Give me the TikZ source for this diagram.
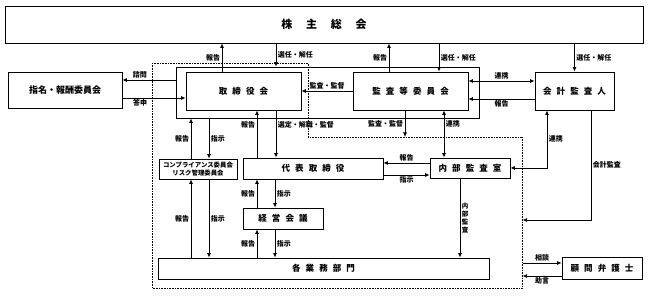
\documentclass[tikz,border=0pt]{standalone}
\usepackage{fontspec}
\newfontfamily\jpfont{Noto Sans CJK JP}
\usetikzlibrary{arrows.meta}
\newcommand{\gp}{\hspace{0.6em}}

\tikzset{
  box/.style={draw, line width=0.8pt, inner sep=0pt, align=center,
    font=\fontsize{8.5}{10}\selectfont\jpfont\bfseries},
  lbl/.style={font=\fontsize{7}{8}\selectfont\jpfont\bfseries, inner sep=1.5pt},
}

\begin{document}
\begin{tikzpicture}[x=1pt, y=-1pt, >={Latex[length=4.5pt,width=4pt]}, line width=0.8pt]
  \useasboundingbox (0,0) rectangle (648,296);

  % boxes
  \node[box, minimum width=638pt, minimum height=37pt, font=\fontsize{11}{12}\selectfont\jpfont\bfseries]
    (soukai) at (324,24.5) {株\hspace{1.25em}主\hspace{1.25em}総\hspace{1.25em}会};
  \node[box, minimum width=114pt, minimum height=36pt, font=\fontsize{9}{10}\selectfont\jpfont\bfseries]
    (shimei) at (65,90) {指名・報酬委員会};
  \node[draw, line width=0.8pt, minimum width=303pt, minimum height=51pt] (frame) at (327.5,92.5) {};
  \node[box, minimum width=115pt, minimum height=38pt] (tori) at (243.5,91) {取\gp 締\gp 役\gp 会};
  \node[box, minimum width=115pt, minimum height=38pt] (kansa) at (410.5,91) {監\gp 査\gp 等\gp 委\gp 員\gp 会};
  \node[box, minimum width=79pt, minimum height=38pt] (kaikei) at (574.5,91) {会\gp 計\gp 監\gp 査\gp 人};
  \node[box, minimum width=78pt, minimum height=20pt, font=\fontsize{6.4}{8}\selectfont\jpfont\bfseries]
    (comp) at (198,169) {コンプライアンス委員会\\リスク管理委員会};
  \node[box, minimum width=140pt, minimum height=21pt] (daihyo) at (313,168.5) {代\gp 表\gp 取\gp 締\gp 役};
  \node[box, minimum width=80pt, minimum height=20pt] (naibu) at (470,168) {内\gp 部\gp 監\gp 査\gp 室};
  \node[box, minimum width=80pt, minimum height=21pt] (keiei) at (283,218.5) {経\gp 営\gp 会\gp 議};
  \node[box, minimum width=331pt, minimum height=21pt] (gyomu) at (323.5,268.5) {各\gp 業\gp 務\gp 部\gp 門};
  \node[box, minimum width=80pt, minimum height=22pt] (komon) at (602,268) {顧\gp 問\gp 弁\gp 護\gp 士};

  % executive area
  \coordinate (dotc) at (308,137);
  \coordinate (dotr) at (522.5,137);
  \draw[densely dotted, line width=0.6pt] (152,63) -- (308,63) -- (dotc) -- (dotr) -- (522.5,288) -- (152,288) -- cycle;
  \coordinate (acc) at (522.5,220);
  \coordinate (soudan) at (522.5,263);
  \coordinate (jogen) at (522.5,276);

  % shareholders
  \draw[->] ([xshift=-21.5pt]tori.north) -- ([xshift=-21.5pt]tori.north |- soukai.south)
    node[lbl, midway, left] {報告};
  \draw[->] ([xshift=32.5pt]tori.north |- soukai.south) -- ([xshift=32.5pt]tori.north |- frame.north)
    node[lbl, midway, right] {選任・解任};
  \draw[->] ([xshift=-21.5pt]kansa.north) -- ([xshift=-21.5pt]kansa.north |- soukai.south)
    node[lbl, midway, left] {報告};
  \draw[->] ([xshift=28.5pt]kansa.north |- soukai.south) -- ([xshift=28.5pt]kansa.north)
    node[lbl, midway, right] {選任・解任};
  \draw[->] (kaikei.north |- soukai.south) -- (kaikei.north)
    node[lbl, midway, right] {選任・解任};

  % board
  \draw[->] ([yshift=12.5pt]frame.west) -- ([yshift=12.5pt]frame.west -| shimei.east)
    node[lbl, pos=0.67, above] {諮問};
  \draw[->] ([yshift=-7pt]tori.west -| shimei.east) -- ([yshift=-7pt]tori.west)
    node[lbl, pos=0.28, below] {答申};
  \draw[->] (kansa.west) -- (tori.east) node[lbl, midway, above] {監査・監督};
  \draw[<->] ([yshift=10pt]kansa.east) -- ([yshift=10pt]kaikei.west) node[lbl, midway, above] {連携};
  \draw[->] ([yshift=-8pt]kaikei.west) -- ([yshift=-8pt]kansa.east) node[lbl, midway, below] {報告};

  \draw[->] ([xshift=-7pt]comp.north) -- ([xshift=-7pt]comp.north |- frame.south)
    node[lbl, midway, left] {報告};
  \draw[->] ([xshift=11pt]comp.north |- frame.south) -- ([xshift=11pt]comp.north)
    node[lbl, midway, right] {指示};
  \draw[->] ([xshift=-56pt]daihyo.north) -- ([xshift=-56pt]daihyo.north |- tori.south)
    node[lbl, pos=0.69, left] {報告};
  \draw[->] ([xshift=32.5pt]tori.south) -- ([xshift=32.5pt]tori.south |- daihyo.north)
    node[lbl, pos=0.31, right] {選定・解職・監督};
  \draw[->] ([xshift=-5.5pt]kansa.south) -- ([xshift=-5.5pt]kansa.south |- dotc)
    node[lbl, midway, left] {監査・監督};
  \draw[<->] ([xshift=-26pt]naibu.north |- kansa.south) -- ([xshift=-26pt]naibu.north)
    node[lbl, pos=0.29, right] {連携};
  \draw[<->] ([xshift=-27.5pt]kaikei.south) |- (naibu.east)
    node[lbl, pos=0.25, right] {連携};
  \draw[->] ([xshift=16.5pt]kaikei.south) |- (acc)
    node[lbl, pos=0.25, right] {会計監査};

  % execution
  \draw[->] ([yshift=5pt]naibu.west) -- ([yshift=5pt]naibu.west -| daihyo.east)
    node[lbl, midway, above] {報告};
  \draw[->] ([yshift=-6.5pt]daihyo.east) -- ([yshift=-6.5pt]daihyo.east -| naibu.west)
    node[lbl, midway, below] {指示};
  \draw[->] ([xshift=-7pt]comp.south |- gyomu.north) -- ([xshift=-7pt]comp.south)
    node[lbl, midway, left] {報告};
  \draw[->] ([xshift=11pt]comp.south) -- ([xshift=11pt]comp.south |- gyomu.north)
    node[lbl, midway, right] {指示};
  \draw[->] ([xshift=-26pt]keiei.north) -- ([xshift=-26pt]keiei.north |- daihyo.south)
    node[lbl, midway, left] {報告};
  \draw[->] ([xshift=-8pt]keiei.north |- daihyo.south) -- ([xshift=-8pt]keiei.north)
    node[lbl, midway, right] {指示};
  \draw[->] ([xshift=-26pt]keiei.south |- gyomu.north) -- ([xshift=-26pt]keiei.south)
    node[lbl, midway, left] {報告};
  \draw[->] ([xshift=-8pt]keiei.south) -- ([xshift=-8pt]keiei.south |- gyomu.north)
    node[lbl, midway, right] {指示};
  \draw[->] ([xshift=-10pt]naibu.south) -- ([xshift=-10pt]naibu.south |- gyomu.north)
    node[lbl, midway, right, align=center, font=\fontsize{6.5}{8}\selectfont\jpfont\bfseries] {内\\部\\監\\査};

  % lawyer
  \draw[->] (soudan) -- (soudan -| komon.west) node[lbl, midway, above] {相談};
  \draw[->] (jogen -| komon.west) -- (jogen) node[lbl, midway, below] {助言};
\end{tikzpicture}
\end{document}
